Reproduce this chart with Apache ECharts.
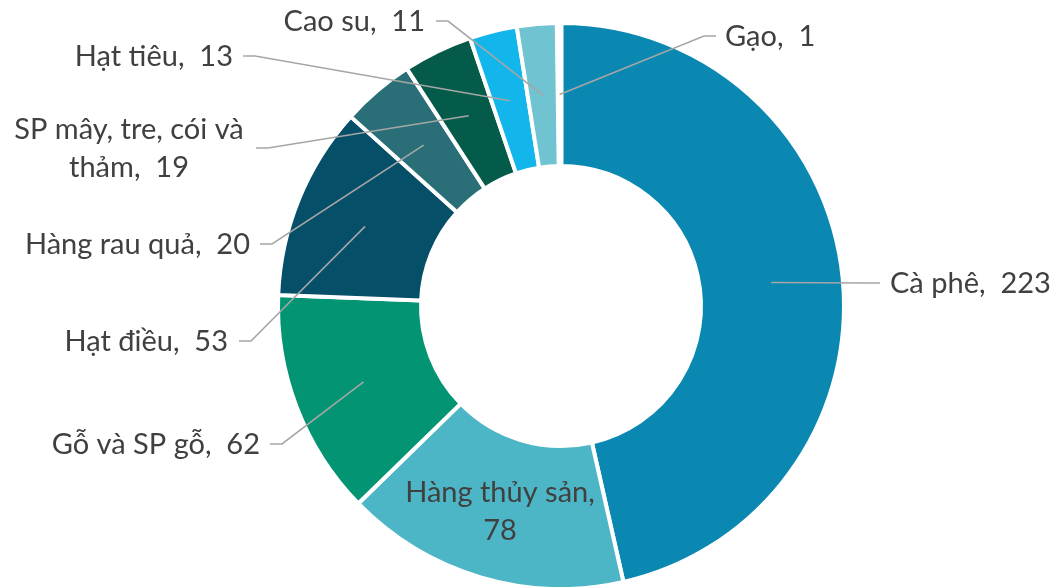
<!DOCTYPE html>
<html>
<head>
<meta charset="utf-8">
<script src="https://cdn.jsdelivr.net/npm/echarts@6/dist/echarts.min.js"></script>
<style>
  html, body { margin: 0; padding: 0; background: #fff; }
  #chart { width: 1053px; height: 587px; }
</style>
</head>
<body>
<div id="chart"></div>
<script>
// mặt hàng và giá trị
const categories = ['Cà phê', 'Hàng thủy sản', 'Gỗ và SP gỗ', 'Hạt điều', 'Hàng rau quả',
  'SP mây, tre, cói và thảm', 'Hạt tiêu', 'Cao su', 'Gạo'];
const values = [223, 78, 62, 53, 20, 19, 13, 11, 1];
const colors = ['#0B88B2', '#4DB6C6', '#039573', '#064F69', '#2A6F78',
  '#045B49', '#12B6EA', '#70C3D1', '#3B3B3B'];

// nhãn được kéo tay như bản gốc: [căn lề, x, y, x chỗ đường dẫn chạm nhãn]
const labelSpots = [
  ['left', 890, 284, 880],
  ['center', 500, 512, null],
  ['right', 260, 445, 270],
  ['right', 228, 342, 239],
  ['right', 250, 245, 260],
  ['center', 129, 149, 256],
  ['right', 233, 57, 243],
  ['right', 425, 22, 436],
  ['left', 725, 37, 716]
];

const cx = 561, cy = 306;
const rIn = 142, rOut = 281;
const bw = 4;

const chart = echarts.init(document.getElementById('chart'));

const pieData = categories.map((name, i) => ({
  name: name,
  value: values[i],
  itemStyle: { color: colors[i], borderWidth: i === 8 ? 5 : bw }
}));

// đường dẫn: từ giữa vành lát cắt (góc do ECharts tính) tới cạnh nhãn
function leader(params, api) {
  const i = params.dataIndex;
  const s = labelSpots[i];
  if (s[3] == null) return null;
  const lay = chart.getModel().getSeriesByIndex(0).getData().getItemLayout(i);
  const mid = (lay.startAngle + lay.endAngle) / 2;
  const rMid = (rIn + rOut) / 2;
  const dir = s[0] === 'left' ? -1 : 1;
  const ly = s[2] - 1;
  return {
    type: 'polyline',
    shape: {
      points: [
        [lay.cx + Math.cos(mid) * rMid, lay.cy + Math.sin(mid) * rMid],
        [s[3] + dir * 12, ly],
        [s[3], ly]
      ]
    },
    style: { stroke: '#A6A6A6', lineWidth: 1.6, fill: null }
  };
}

chart.setOption({
  animation: false,
  series: [{
    type: 'pie',
    silent: true,
    z: 2,
    center: [cx, cy],
    radius: [rIn - bw / 2, rOut + bw / 2],
    startAngle: 90,
    clockwise: true,
    avoidLabelOverlap: false,
    itemStyle: { borderColor: '#fff', borderWidth: bw },
    label: {
      show: true,
      position: 'outside',
      fontFamily: 'Lato',
      fontSize: 29,
      lineHeight: 38,
      color: '#404040',
      formatter: function (p) {
        if (p.dataIndex === 1) return p.name + ',\n' + p.value;
        return p.name.replace('cói và thảm', 'cói và\nthảm') + ',  ' + p.value;
      }
    },
    labelLine: { show: false },
    labelLayout: function (p) {
      const s = labelSpots[p.dataIndex];
      return { x: s[1], y: s[2], align: s[0], verticalAlign: 'middle' };
    },
    data: pieData
  }, {
    type: 'custom',
    coordinateSystem: 'none',
    silent: true,
    z: 3,
    renderItem: leader,
    data: values
  }]
});
</script>
</body>
</html>
